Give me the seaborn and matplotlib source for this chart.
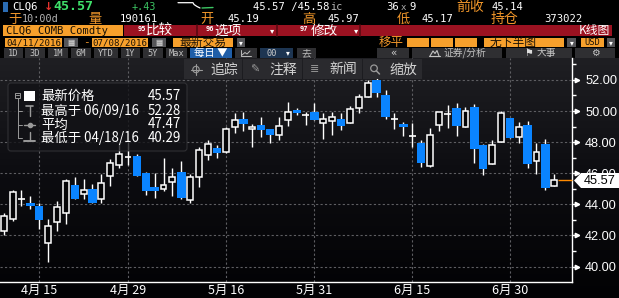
import numpy as np
import pandas as pd
import matplotlib
matplotlib.use("Agg")
import matplotlib.pyplot as plt
import seaborn as sns
from matplotlib.patches import Rectangle, FancyBboxPatch, Polygon, Circle
from matplotlib.colors import LinearSegmentedColormap
from matplotlib.transforms import blended_transform_factory

# ---------------- data ----------------
dates = ["04/11", "04/12", "04/13", "04/14", "04/15", "04/18", "04/19", "04/20", "04/21", "04/22",
         "04/25", "04/26", "04/27", "04/28", "04/29", "05/02", "05/03", "05/04", "05/05", "05/06",
         "05/09", "05/10", "05/11", "05/12", "05/13", "05/16", "05/17", "05/18", "05/19", "05/20",
         "05/23", "05/24", "05/25", "05/26", "05/27", "05/31", "06/01", "06/02", "06/03", "06/06",
         "06/07", "06/08", "06/09", "06/10", "06/13", "06/14", "06/15", "06/16", "06/17", "06/20",
         "06/21", "06/22", "06/23", "06/24", "06/27", "06/28", "06/29", "06/30", "07/01", "07/05",
         "07/06", "07/07", "07/08"]
opens = [42.30, 43.06, 44.35, 44.09, 43.90, 41.50, 42.85, 43.42, 45.25, 44.67,
         44.99, 44.35, 45.85, 46.53, 47.07, 47.11, 46.00, 45.10, 45.01, 45.46,
         46.10, 44.28, 45.74, 47.20, 47.63, 47.35, 49.00, 49.49, 48.83, 49.11,
         48.83, 48.48, 49.43, 50.07, 49.76, 49.96, 49.21, 49.34, 49.47, 49.26,
         50.18, 50.89, 52.00, 51.06, 49.48, 49.17, 48.41, 47.93, 46.47, 49.09,
         49.80, 50.18, 49.00, 50.24, 47.82, 46.58, 48.04, 49.54, 48.31, 49.09,
         46.79, 47.86, 45.19]
highs = [43.45, 44.91, 44.93, 44.56, 44.10, 43.04, 44.22, 45.60, 45.74, 45.61,
         45.29, 45.95, 46.90, 47.93, 48.00, 47.25, 46.05, 46.00, 46.96, 46.32,
         46.79, 45.95, 47.67, 48.14, 47.80, 49.00, 49.86, 49.96, 49.15, 49.64,
         48.85, 49.62, 50.60, 50.20, 49.96, 50.54, 49.90, 49.96, 49.90, 50.33,
         51.08, 52.00, 52.28, 51.36, 49.86, 49.32, 49.21, 48.14, 48.89, 49.96,
         50.39, 50.54, 50.24, 50.46, 47.85, 48.14, 49.98, 49.56, 49.32, 49.36,
         47.97, 48.19, 45.97]
lows = [42.00, 42.95, 43.90, 43.68, 42.42, 40.29, 42.31, 42.72, 44.37, 44.35,
        44.11, 44.07, 45.18, 46.32, 46.55, 45.80, 44.60, 44.43, 44.88, 44.54,
        44.35, 44.10, 45.14, 46.86, 46.98, 47.33, 48.61, 48.74, 47.71, 48.36,
        47.93, 48.14, 49.06, 49.75, 49.10, 49.40, 48.23, 48.46, 48.78, 49.21,
        49.90, 50.89, 50.90, 49.47, 48.83, 48.40, 47.71, 46.42, 46.42, 48.74,
        48.89, 48.40, 49.00, 46.68, 45.87, 46.58, 48.04, 48.29, 47.93, 46.36,
        45.94, 44.91, 45.17]
closes = [43.25, 44.78, 44.33, 43.88, 43.02, 42.59, 43.81, 45.50, 44.37, 44.95,
          44.11, 45.36, 46.64, 47.24, 47.03, 45.83, 44.88, 44.84, 45.27, 45.74,
          44.43, 45.78, 47.50, 47.88, 47.33, 48.83, 49.41, 49.19, 49.00, 48.81,
          48.48, 49.04, 49.94, 49.86, 49.74, 49.43, 49.47, 49.60, 49.06, 50.11,
          50.89, 51.79, 51.19, 49.64, 49.46, 49.00, 48.39, 46.68, 48.48, 49.92,
          49.78, 49.06, 50.03, 47.59, 46.29, 47.80, 49.86, 48.29, 48.96, 46.58,
          47.39, 45.08, 45.57]

tick_dates = ["04/15", "04/29", "05/16", "05/31", "06/15", "06/30"]
tick_labels = ["4月 15", "4月 29", "5月 16", "5月 31", "6月 15", "6月 30"]
minor_dates = ["04/22", "05/09", "05/23", "06/08", "06/22", "07/08"]
y_ticks = [40, 42, 44, 46, 48, 50, 52]
y_minor = [41, 43, 45, 47, 49, 51, 53]
last_price = 45.57

legend_names = ["最新价格", "最高于 06/09/16", "平均", "最低于 04/18/16"]
legend_values = ["45.57", "52.28", "47.47", "40.29"]

df = pd.DataFrame({"date": dates, "open": opens, "high": highs, "low": lows, "close": closes})
df["pos"] = np.arange(len(df))
pos_of = dict(zip(df["date"], df["pos"]))

# ---------------- styling ----------------
sns.set_theme(style="dark", rc={"axes.facecolor": "none", "figure.facecolor": "black"})
plt.rcParams["font.family"] = ["DejaVu Sans", "Noto Sans CJK SC"]

BLUE = "#0a84ff"
ORANGE = "#f7a02c"
OTXT = "#f0962a"
RED = "#9b1221"
GRID = "#5e5e62"
MONO = ["DejaVu Sans Mono", "Noto Sans CJK SC"]
CJK = ["Noto Sans CJK SC", "DejaVu Sans"]

W, H = 619, 298
fig = plt.figure(figsize=(W / 100, H / 100), dpi=100, facecolor="black")

# background gradient for chart region
bg = fig.add_axes([0, 0, 1, 240 / H], zorder=0)
cmap = LinearSegmentedColormap.from_list("g", ["#020204", "#0c0c10", "#1f1f23"])
bg.imshow(np.linspace(0, 1, 256).reshape(-1, 1), aspect="auto", cmap=cmap,
          extent=[0, 1, 0, 1], origin="lower")
bg.axis("off")

# ---------------- chart ----------------
ax = fig.add_axes([0, 16 / H, 572 / W, 224 / H], zorder=1)
ax.patch.set_alpha(0)
ax.set_xlim(-0.417, 64.0)
ax.set_ylim(39.01, 53.41)

up = df[df["close"] > df["open"] + 0.05]
dn = df[df["close"] < df["open"] - 0.05]
dj = df[(df["close"] - df["open"]).abs() <= 0.05]

ax.vlines(df["pos"], df["low"], df["high"], color="white", lw=1.0, zorder=2)
ax.bar(up["pos"], up["close"] - up["open"], bottom=up["open"], width=0.66,
       facecolor="#050507", edgecolor="white", linewidth=1.1, zorder=3)
ax.bar(dn["pos"], dn["open"] - dn["close"], bottom=dn["close"], width=0.95,
       color=BLUE, linewidth=0, zorder=3)
ax.hlines(dj["close"], dj["pos"] - 0.38, dj["pos"] + 0.38, color="white", lw=1.2, zorder=3)

# last price line
ax.hlines(last_price, df["pos"].iloc[-1] + 0.45, 64.0, color="#ff8a00", lw=1.0, zorder=3, clip_on=False)

# axes / ticks
for s in ["left", "top"]:
    ax.spines[s].set_visible(False)
for s in ["right", "bottom"]:
    ax.spines[s].set_visible(True)
    ax.spines[s].set_color("white")
    ax.spines[s].set_linewidth(1.0)

ax.set_xticks([pos_of[d] for d in tick_dates])
ax.set_xticklabels(tick_labels, fontfamily=CJK)
ax.set_xticks([pos_of[d] for d in minor_dates], minor=True)
ax.tick_params(axis="x", which="major", direction="out", length=3, width=1,
               color="white", labelcolor="white", labelsize=9.0, pad=-1.8)
ax.tick_params(axis="x", which="minor", direction="out", length=3, width=1, color="white")

ax.yaxis.tick_right()
ax.set_yticks(y_ticks)
ax.set_yticklabels([f"{v:.2f}" for v in y_ticks], fontfamily="Liberation Sans")
ax.set_yticks(y_minor, minor=True)
ax.tick_params(axis="y", which="major", direction="out", length=4, width=1,
               color="white", labelcolor="white", labelsize=9.2, pad=5.5)
ax.tick_params(axis="y", which="minor", direction="out", length=3, width=1, color="white")
trans = blended_transform_factory(ax.transAxes, ax.transData)
ax.plot([1.0085] * len(y_ticks), y_ticks, ls="none", marker=">", ms=3.2, color="white",
        transform=trans, clip_on=False, zorder=4)

ax.grid(True, which="major", axis="both", color=GRID, ls=(0, (2, 2)), lw=0.8)
ax.set_axisbelow(True)
ax.set_xlabel("")
ax.set_ylabel("")

# ---------------- overlay (pixel coordinates) ----------------
ov = fig.add_axes([0, 0, 1, 1], zorder=5)
ov.set_xlim(0, W)
ov.set_ylim(H, 0)
ov.axis("off")
ov.patch.set_alpha(0)


def T(x, y, s, c="white", size=7.3, ha="left", weight="normal", family=MONO, va="center", z=4):
    ov.text(x, y, s, color=c, fontsize=size, ha=ha, va=va, fontweight=weight, fontfamily=family,
            zorder=z)


def R(x0, y0, x1, y1, fc, ec="none", lw=0, z=1, alpha=1.0):
    ov.add_patch(Rectangle((x0, y0), x1 - x0, y1 - y0, facecolor=fc, edgecolor=ec, lw=lw,
                           zorder=z, alpha=alpha))


# row 1
R(3, 2, 8, 12, "#2b6cb3")
T(12, 7, "CLQ6", size=7.6)
T(44, 7, "↓", c="#e5322d", size=8, weight="bold", family=["DejaVu Sans"])
T(53, 7, "45.57", c="#3fe06a", size=9.6, weight="bold")
T(132, 7, "+.43", c="#3cc563", size=7.3)
ov.plot([178, 193, 194, 197, 200], [2.7, 2.7, 4.5, 6.5, 8.0], color="white", lw=0.9)
ov.plot([202, 213], [8.0, 7.5], color="#3cc563", lw=1.0)
T(253, 7, "45.57 /45.58", size=7.6)
T(330, 7, "ic", c="#b8b8b8", size=7.3)
T(386, 7, "36", size=7.6)
T(401, 7, "x", c="#b0b0b0", size=6.5)
T(409, 7, "9", size=7.6)
T(456, 7, "前收", c=OTXT, size=10, family=CJK)
T(491, 7, "45.14", size=7.6)

# row 2
T(8, 19, "于", c=OTXT, size=9.5, family=CJK)
T(22, 19, "10:00d", c="#b4b4b4", size=7.3)
T(88, 19, "量", c=OTXT, size=9.5, family=CJK)
T(120, 19, "190161", size=7.6)
T(200, 19, "开", c=OTXT, size=9.5, family=CJK)
T(228, 19, "45.19", size=7.6)
T(302, 19, "高", c=OTXT, size=9.5, family=CJK)
T(327, 19, "45.97", size=7.6)
T(397, 19, "低", c=OTXT, size=9.5, family=CJK)
T(422, 19, "45.17", size=7.6)
T(491, 19, "持仓", c=OTXT, size=10, family=CJK)
T(544, 19, "373022", size=7.6)

# row 3
R(3, 25, 123, 36, ORANGE)
T(6, 30.5, "CLQ6 COMB Comdty", c="#1a1206", size=7.6)
R(124, 25, 612, 36, RED)
for xd in [197, 277, 360]:
    ov.plot([xd, xd], [25, 36], color="#5a0a12", lw=1.2)
T(138, 29, "95", size=5, weight="bold")
T(146, 30.5, "比较", size=9.8, family=CJK)
T(206, 29, "96", size=5, weight="bold")
T(214, 30.5, "选项", size=9.8, family=CJK)
T(272, 30.5, "▾", size=6, ha="center", family=["DejaVu Sans"])
T(300, 29, "97", size=5, weight="bold")
T(311, 30.5, "修改", size=9.8, family=CJK)
T(356, 30.5, "▾", size=6, ha="center", family=["DejaVu Sans"])
T(610, 30.5, "K线图", size=8.5, ha="right", family=CJK)

# row 4
R(5, 38, 62, 47, ORANGE)
T(33.5, 42.5, "04/11/2016", c="#1a1206", size=6.6, ha="center")
R(64, 38, 78, 47, "#555558")
T(71, 42.5, "▦", c="#dddddd", size=5.5, ha="center", family=["DejaVu Sans"])
T(86, 42.5, "-", c=OTXT, size=8, ha="center")
R(92, 38, 148, 47, ORANGE)
T(120, 42.5, "07/08/2016", c="#1a1206", size=6.6, ha="center")
R(152, 38, 166, 47, "#555558")
T(159, 42.5, "▦", c="#dddddd", size=5.5, ha="center", family=["DejaVu Sans"])
R(173, 38, 233, 47, ORANGE)
T(203, 42.5, "最新交易", c="#1a1206", size=8.5, ha="center", family=CJK)
R(237, 38, 245, 47, "#555558")
T(241, 42.5, "▾", size=5.5, ha="center", family=["DejaVu Sans"])
T(379, 42.5, "移平", c=OTXT, size=9, family=CJK)
for xa, xb in [(407, 429), (431, 453), (455, 477)]:
    R(xa, 38, xb, 47, ORANGE)
R(484, 38, 564, 47, ORANGE)
T(490, 42.5, "无下半图", c="#1a1206", size=8.5, family=CJK)
R(567, 38, 576, 47, "#555558")
T(571.5, 42.5, "▾", size=5.5, ha="center", family=["DejaVu Sans"])
R(581, 38, 604, 47, ORANGE)
T(592.5, 42.5, "USD", c="#1a1206", size=6.3, ha="center")
R(607, 38, 615, 47, "#555558")
T(611, 42.5, "▾", size=5.5, ha="center", family=["DejaVu Sans"])

# row 5
btns = [(4, 23, "1D"), (25, 45, "3D"), (48, 68, "1M"), (71, 91, "6M"), (94, 118, "YTD"),
        (121, 140, "1Y"), (143, 163, "5Y"), (166, 187, "Max")]
for xa, xb, lab in btns:
    R(xa, 48, xb, 58, "#2f2f32")
    T((xa + xb) / 2, 53, lab, c="#c4c4c4", size=6.2, ha="center")
R(190, 48, 232, 58, "#1f5ea8")
T(211, 53, "每日 ▼", size=7.5, ha="center", family=CJK)
R(235, 48, 257, 58, "#2f2f32")
ov.plot([241, 241, 251], [50, 56, 56], color="#bbbbbb", lw=0.7)
ov.plot([242, 245, 247, 250], [55, 52.5, 54, 51], color="#bbbbbb", lw=0.7)
R(260, 48, 293, 58, "#1d3552")
T(272, 53, "00", c="#cccccc", size=6.2, ha="center")
T(288, 53, "▾", size=5.5, ha="center", family=["DejaVu Sans"])
R(297, 48, 316, 58, "#2f2f32")
T(306, 53, "去", c="#bbbbbb", size=7, ha="center", family=CJK)
R(377, 48, 409, 58, "#2f2f32")
T(393, 53, "«", c="#cccccc", size=7.5, ha="center", family=["DejaVu Sans"])
R(412, 48, 502, 58, "#2f2f32")
ov.plot([430, 433, 435, 437, 439], [56, 51, 53.5, 50.5, 56], color="#c4c4c4", lw=0.8)
ov.plot([429, 440], [56.3, 56.3], color="#c4c4c4", lw=0.8)
T(444, 53, "证券/分析", c="#c4c4c4", size=7, family=CJK)
R(506, 48, 572, 58, "#2f2f32")
T(524, 53, "⚑", c="#dddddd", size=7, family=["DejaVu Sans"])
T(537, 53, "大事", c="#c4c4c4", size=7, family=CJK)
R(575, 48, 615, 58, "#2f2f32")
T(595, 53, "⚙", c="#c4c4c4", size=7, ha="center", family=["DejaVu Sans"])

# toolbar over chart
tools = [(184, 242, "追踪"), (243, 302, "注释"), (303, 362, "新闻"), (363, 422, "缩放")]
for k, (xa, xb, lab) in enumerate(tools):
    R(xa, 59, xb, 79, "#2a2a2e", z=3)
    cx, cy = xa + 12, 69.5
    if k == 0:
        ov.add_patch(Circle((cx, cy), 3.2, facecolor="none", edgecolor="#9a9a9a", lw=0.8, zorder=4))
        ov.plot([cx - 5.5, cx + 5.5], [cy, cy], color="#9a9a9a", lw=0.8, zorder=4)
        ov.plot([cx, cx], [cy - 5.5, cy + 5.5], color="#9a9a9a", lw=0.8, zorder=4)
    elif k == 1:
        T(cx, cy, "✎", c="#9a9a9a", size=8, ha="center", family=["DejaVu Sans"])
    elif k == 2:
        T(cx, cy, "≣", c="#9a9a9a", size=8, ha="center", family=["DejaVu Sans"])
    else:
        ov.add_patch(Circle((cx - 1, cy - 1.2), 3.3, facecolor="none", edgecolor="#9a9a9a", lw=0.9, zorder=4))
        ov.plot([cx + 1.3, cx + 4.5], [cy + 1.3, cy + 4.5], color="#9a9a9a", lw=1.1, zorder=4)
    T(xa + 26, 69.5, lab, c="#d2d2d2", size=10, family=CJK)

# legend box
ov.add_patch(FancyBboxPatch((8, 83), 179, 68, boxstyle="round,pad=0,rounding_size=3",
                            facecolor="#121216", edgecolor="#38383c", lw=0.8, alpha=0.78, zorder=3))
rows_y = [96, 111, 124.5, 138]
for yy, name, val in zip(rows_y, legend_names, legend_values):
    T(41, yy, name, size=9.6, family=CJK)
    T(181, yy, val, size=9.6, ha="right", family=CJK)
GI = "#9a9a9a"
ov.add_patch(Rectangle((15, 92.5), 5, 5, facecolor="none", edgecolor=GI, lw=0.7, zorder=4))
ov.plot([16, 19], [95, 95], color=GI, lw=0.7, zorder=4)
ov.add_patch(Rectangle((24, 91), 11, 10, facecolor="white", edgecolor="none", zorder=4))
ov.plot([17.5, 17.5], [97.5, 138], color=GI, lw=0.7, zorder=4)
for yy in rows_y[1:]:
    ov.plot([17.5, 22], [yy, yy], color=GI, lw=0.7, zorder=4)
ov.plot([29.5, 29.5], [105.5, 116], color=GI, lw=1.0, zorder=4)
ov.plot([26, 33], [105.5, 105.5], color=GI, lw=1.2, zorder=4)
ov.plot([24, 35], [124.5, 124.5], color=GI, lw=1.0, zorder=4)
ov.plot([29.5], [124.5], marker="o", ms=3, color=GI, zorder=4)
ov.plot([29.5, 29.5], [132, 141], color=GI, lw=1.0, zorder=4)
ov.plot([24, 35], [141, 141], color=GI, lw=1.4, zorder=4)

# last price tag
ov.add_patch(Polygon([[574, 180.5], [581, 173], [619, 173], [619, 188], [581, 188]],
                     closed=True, facecolor="white", edgecolor="none", zorder=6))
ov.text(600, 180.7, f"{last_price:.2f}", color="black", fontsize=9.2, ha="center", va="center",
        fontfamily="Liberation Sans", zorder=7)

fig.savefig("out.png", dpi=100, facecolor="black")
